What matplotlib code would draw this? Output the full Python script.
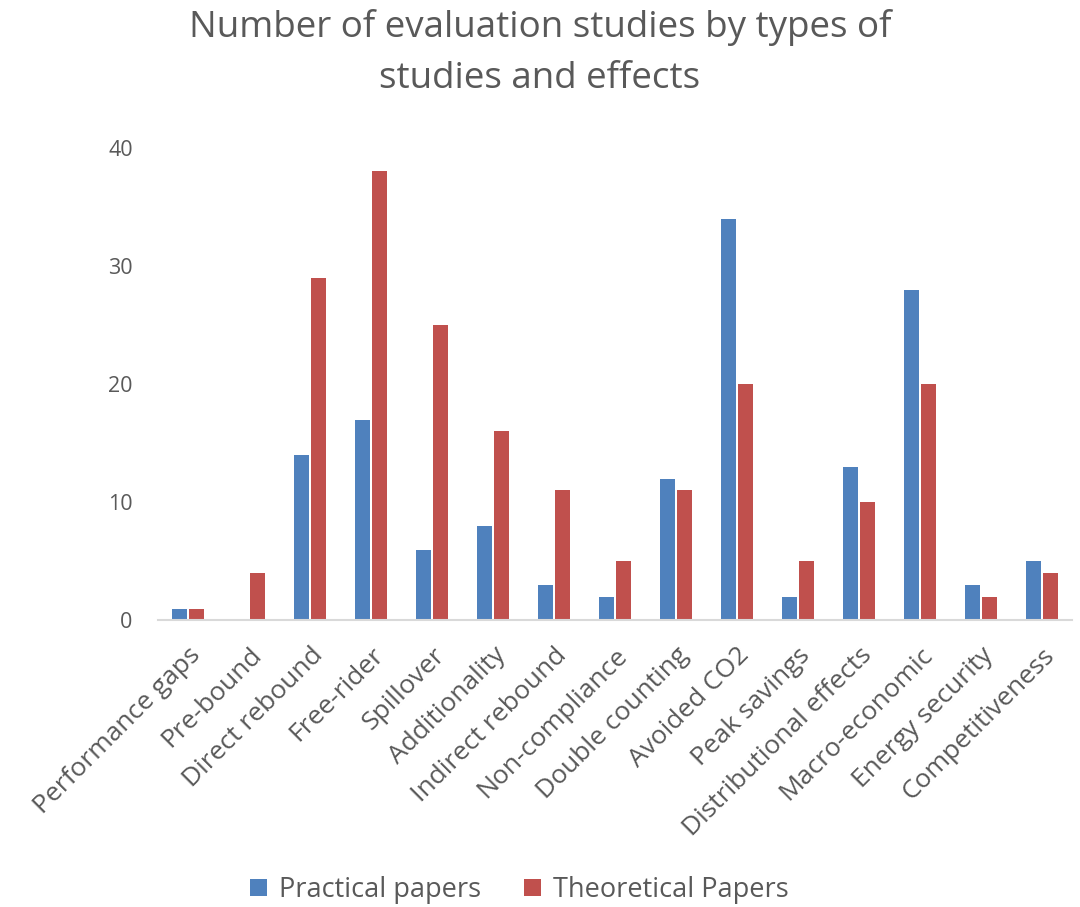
import numpy as np
import matplotlib.pyplot as plt
from matplotlib.transforms import ScaledTranslation

plt.rcParams['font.family'] = ['Open Sans', 'DejaVu Sans']

categories = ['Performance gaps', 'Pre-bound', 'Direct rebound', 'Free-rider',
              'Spillover', 'Additionality', 'Indirect rebound', 'Non-compliance',
              'Double counting', 'Avoided CO2', 'Peak savings',
              'Distributional effects', 'Macro-economic', 'Energy security',
              'Competitiveness']
practical = [1, 0, 14, 17, 6, 8, 3, 2, 12, 34, 2, 13, 28, 3, 5]
theoretical = [1, 4, 29, 38, 25, 16, 11, 5, 11, 20, 5, 10, 20, 2, 4]

grey = '#595959'
fig = plt.figure(figsize=(10.8, 9.07), dpi=100)
ax = fig.add_axes([0.146, 0.316, 0.847, 0.521])

x = np.arange(len(categories))
w = 0.24
ax.bar(x - w / 2 - 0.02, practical, w, color='#4F81BD', label='Practical papers')
ax.bar(x + w / 2 + 0.02, theoretical, w, color='#C0504D', label='Theoretical Papers')

ax.set_xlim(-0.5, len(categories) - 0.5)
ax.set_ylim(0, 40)
ax.set_yticks([0, 10, 20, 30, 40])
ax.set_xticks(x)
ax.set_xticklabels(categories, rotation=45, ha='right', rotation_mode='anchor',
                   fontsize=19, color=grey)
# shift labels slightly to the right like the original
offset = ScaledTranslation(0.1, 0, fig.dpi_scale_trans)
for lab in ax.get_xticklabels():
    lab.set_transform(lab.get_transform() + offset)
ax.tick_params(axis='y', length=0, labelsize=15.5, labelcolor=grey, pad=18)
ax.tick_params(axis='x', length=0, pad=16)
for s in ['top', 'right', 'left']:
    ax.spines[s].set_visible(False)
ax.spines['bottom'].set_color('#D9D9D9')
ax.spines['bottom'].set_linewidth(1.5)

fig.suptitle('Number of evaluation studies by types of\nstudies and effects',
             fontsize=26.5, color=grey, y=0.99, linespacing=1.55)
fig.legend(loc='lower center', bbox_to_anchor=(0.481, -0.024), ncol=2, frameon=False,
           fontsize=19.5, labelcolor=grey, handlelength=0.6, handleheight=0.6,
           columnspacing=1.6, handletextpad=0.45)

fig.savefig('out.png', dpi=100)
